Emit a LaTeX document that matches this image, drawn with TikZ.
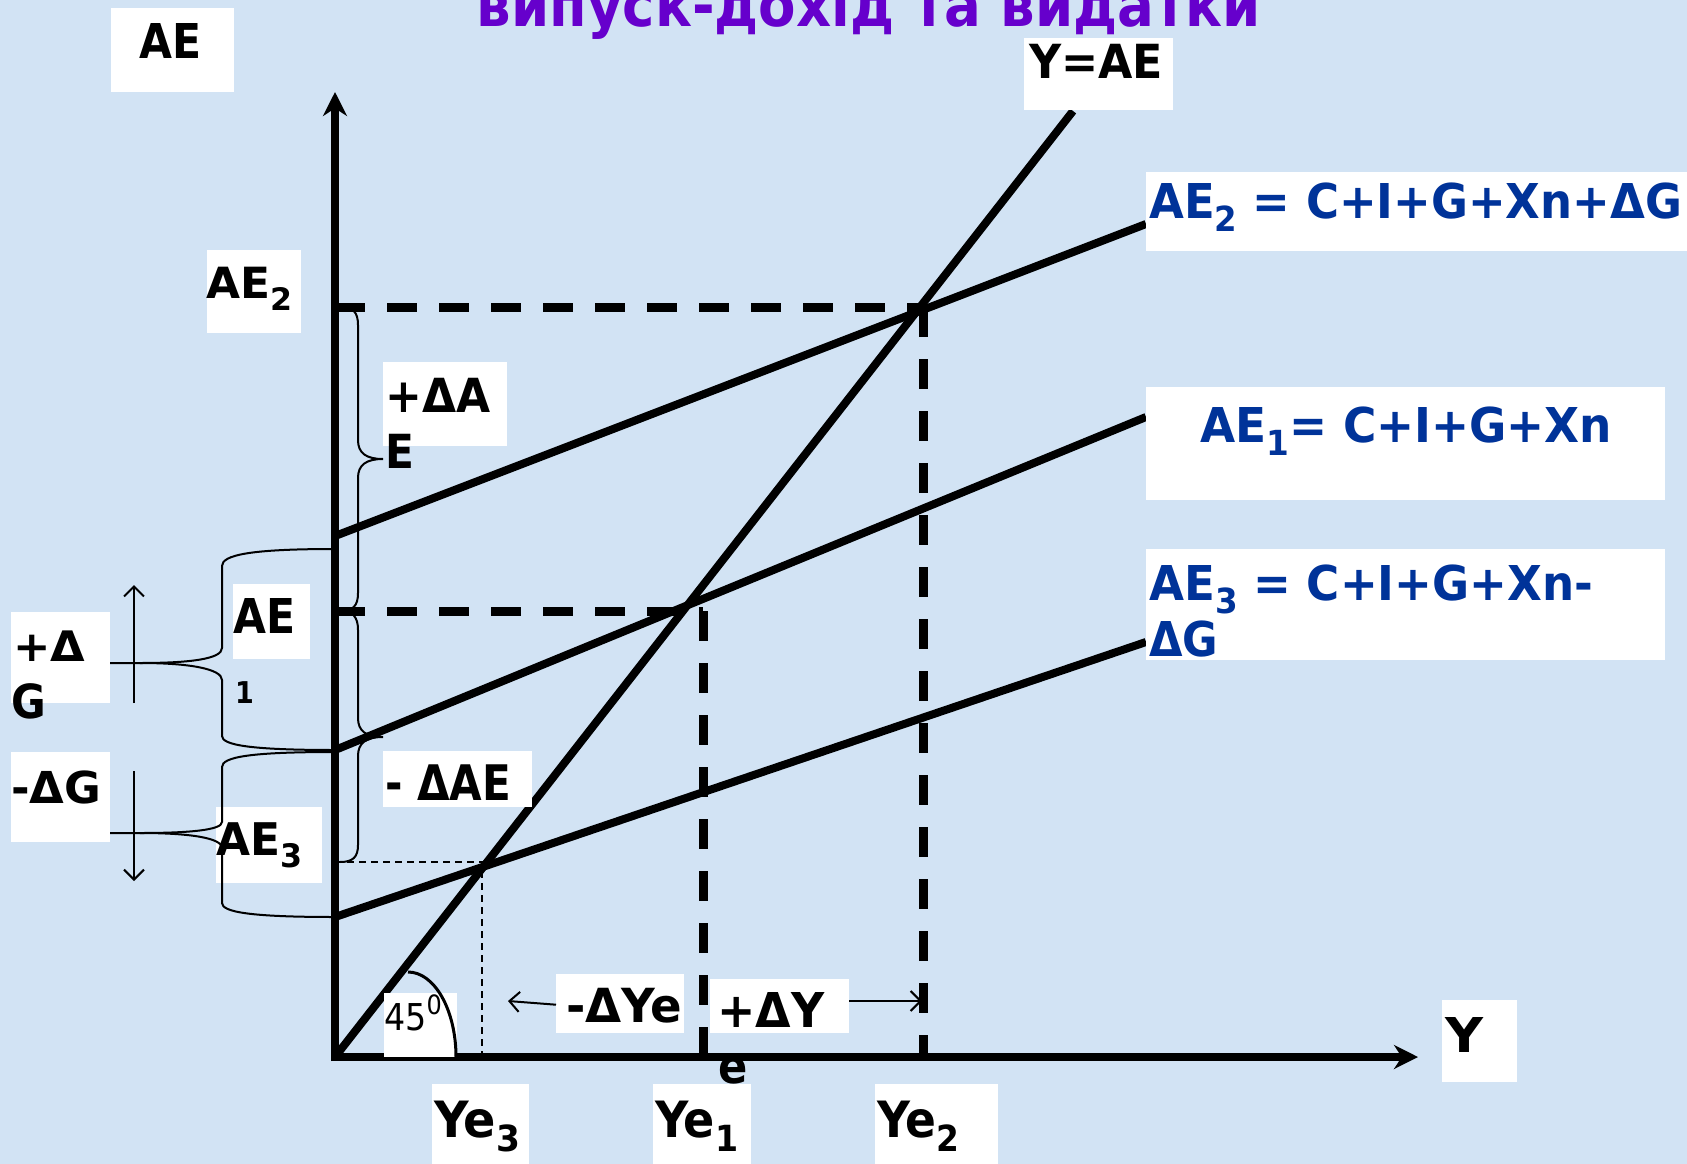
\documentclass[tikz,border=0pt]{standalone}
\usepackage{fontspec}
\setmainfont{DejaVu Sans Condensed}
\usetikzlibrary{arrows.meta}
\definecolor{bgblue}{RGB}{210,227,244}
\definecolor{txtblue}{RGB}{0,51,153}
\definecolor{ttlpurple}{RGB}{102,0,204}
\newcommand{\fw}[2]{\resizebox{#1pt}{\height}{#2}}
\newcommand{\sbs}[1]{\raisebox{-0.28em}{\scalebox{0.72}{#1}}}
\newcommand{\fs}[1]{\fontsize{#1}{#1}\selectfont}
\begin{document}
\begin{tikzpicture}[x=1pt,y=-1pt,
  thickline/.style={line width=8pt},
  axisline/.style={line width=8pt,-{Stealth[length=24pt,width=24pt]}},
  dashline/.style={line width=9pt,dash pattern=on 30pt off 22pt},
  dotline/.style={line width=1.6pt,dash pattern=on 7pt off 5pt},
  thinline/.style={line width=2pt},
  thinarrow/.style={line width=2pt,-{Straight Barb[length=10pt,width=20pt]}},
  wbox/.style={fill=white,draw=none,inner sep=0pt,anchor=north west},
  lbl/.style={inner sep=0pt,anchor=base west,font=\bfseries},
  blbl/.style={lbl,text=txtblue},
]
\useasboundingbox (0,0) rectangle (1687,1164);
\fill[bgblue] (0,0) rectangle (1687,1164);

% title (cut at top)
\node[inner sep=0pt,anchor=base,text=ttlpurple,font=\bfseries] (title) at (869,27)
  {\fw{784}{\fs{60}випуск-дохід та видатки}};

% key points
\coordinate (O) at (335,1057);
\coordinate (Ytop) at (335,92);
\coordinate (Xend) at (1418,1057);
\coordinate (Lend) at (1073,111);
\coordinate (AE2a) at (335,536); \coordinate (AE2b) at (1146,224);
\coordinate (AE1a) at (335,750); \coordinate (AE1b) at (1146,417);
\coordinate (AE3a) at (335,917); \coordinate (AE3b) at (1146,642);
\coordinate (E2) at (923,307); \coordinate (E2y) at (335,307); \coordinate (E2x) at (923,1057);
\coordinate (E1) at (703,611); \coordinate (E1y) at (335,611); \coordinate (E1x) at (703,1057);
\coordinate (E3) at (482,862); \coordinate (E3y) at (335,862); \coordinate (E3x) at (482,1057);

% dashed guides
\draw[dashline] (E2y) -- (E2);
\draw[dashline] (E2) -- (E2x);
\draw[dashline] (E1y) -- (E1);
\draw[dashline] (E1) -- (E1x);
\draw[dotline] (E3y) -- (E3) -- (E3x);

% main lines
\draw[thickline] (O) -- (Lend);
\draw[thickline] (AE2a) -- (AE2b);
\draw[thickline] (AE1a) -- (AE1b);
\draw[thickline] (AE3a) -- (AE3b);

% axes
\draw[axisline] (335,1061) -- (Ytop);
\draw[axisline] (331,1057) -- (Xend);

% white boxes
\node[wbox,minimum width=123pt,minimum height=84pt] (bAE) at (111,8) {};
\node[wbox,minimum width=149pt,minimum height=72pt] (bYAE) at (1024,38) {};
\node[wbox,minimum width=94pt,minimum height=83pt] (bAE2) at (207,250) {};
\node[wbox,minimum width=124pt,minimum height=84pt] (bdAE) at (383,362) {};
\node[wbox,minimum width=149pt,minimum height=56pt] (bmAE) at (383,751) {};
\node[wbox,minimum width=99pt,minimum height=91pt] (bdG) at (11,612) {};
\node[wbox,minimum width=99pt,minimum height=90pt] (bmG) at (11,752) {};
\node[wbox,minimum width=77pt,minimum height=75pt] (bAE1) at (233,584) {};
\node[wbox,minimum width=106pt,minimum height=76pt] (bAE3) at (216,807) {};
\node[wbox,minimum width=541pt,minimum height=79pt] (fAE2) at (1146,172) {};
\node[wbox,minimum width=519pt,minimum height=113pt] (fAE1) at (1146,387) {};
\node[wbox,minimum width=519pt,minimum height=111pt] (fAE3) at (1146,549) {};
\node[wbox,minimum width=73pt,minimum height=64pt] (b45) at (384,993) {};
\node[wbox,minimum width=128pt,minimum height=59pt] (bmY) at (556,974) {};
\node[wbox,minimum width=139pt,minimum height=54pt] (bpY) at (710,979) {};
\node[wbox,minimum width=97pt,minimum height=80pt] (bYe3) at (432,1084) {};
\node[wbox,minimum width=98pt,minimum height=80pt] (bYe1) at (653,1084) {};
\node[wbox,minimum width=123pt,minimum height=80pt] (bYe2) at (875,1084) {};
\node[wbox,minimum width=75pt,minimum height=82pt] (bY) at (1442,1000) {};

% braces on the left
\draw[thinline] (335,549) .. controls (250,549) and (222,555) .. (222,566) -- (222,648)
  .. controls (222,659) and (190,663) .. (140,663) -- (110,663);
\draw[thinline] (140,663) .. controls (190,663) and (222,669) .. (222,680) -- (222,736)
  .. controls (222,745) and (250,750) .. (335,750);
\draw[thinline] (335,752) .. controls (250,752) and (222,757) .. (222,767) -- (222,822)
  .. controls (222,830) and (190,833) .. (140,833) -- (110,833);
\draw[thinline] (140,833) .. controls (190,833) and (222,838) .. (222,848) -- (222,903)
  .. controls (222,912) and (250,917) .. (335,917);
% braces on the right
\draw[thinline] (340,307) .. controls (353,307) and (358,312) .. (358,325) -- (358,440)
  .. controls (358,453) and (366,459) .. (383,459)
  .. controls (366,459) and (358,465) .. (358,478) -- (358,593)
  .. controls (358,606) and (353,611) .. (340,611);
\draw[thinline] (340,611) .. controls (353,611) and (358,617) .. (358,630) -- (358,718)
  .. controls (358,731) and (366,737) .. (383,737)
  .. controls (366,737) and (358,743) .. (358,756) -- (358,845)
  .. controls (358,857) and (353,862) .. (340,862);

% small arrows
\coordinate (upS) at (134,703); \coordinate (upE) at (134,585);
\coordinate (dnS) at (134,771); \coordinate (dnE) at (134,881);
\draw[thinarrow] (upS) -- (upE);
\draw[thinarrow] (dnS) -- (dnE);
\draw[thinarrow] (bmY.west) ++(0,1) -- (508,1001);
\draw[thinarrow] (849,1001) -- (922,1001);

% 45 degree arc
\draw[line width=3pt] (408,972) arc[start angle=-90,end angle=0,x radius=48,y radius=85];

% texts
\node[lbl] (tAE) at (139,59) {\fw{62}{\fs{48}AE}};
\node[lbl] (tYAE) at (1029,79) {\fw{134}{\fs{47}Y=AE}};
\node[lbl] (tAE2) at (206,298) {\fw{86}{\fs{43}AE\sbs{2}}};
\node[lbl] (tdA) at (385,412) {\fw{105}{\fs{47}+ΔA}};
\node[lbl] (tdE) at (385,468) {\fs{47}E};
\node[lbl] (tmAE) at (385,800) {\fw{126}{\fs{49}- ΔAE}};
\node[lbl] (tdG1) at (13,661) {\fw{72}{\fs{42}+Δ}};
\node[lbl] (tdG2) at (11,718) {\fs{47}G};
\node[lbl] (tmG) at (11,803) {\fw{90}{\fs{44}-ΔG}};
\node[lbl] (tAE1) at (233,633) {\fw{62}{\fs{48}AE}};
\node[lbl] (tAE1s) at (235,703) {\fs{30}1};
\node[lbl] (tAE3) at (216,855) {\fw{86}{\fs{45}AE\sbs{3}}};
\node[blbl] (fAE2t) at (1149,218) {\fw{533}{\fs{48}AE\sbs{2} = C+I+G+Xn+ΔG}};
\node[blbl] (fAE1t) at (1200,442) {\fw{412}{\fs{48}AE\sbs{1}= C+I+G+Xn}};
\node[blbl] (fAE3t) at (1149,600) {\fw{444}{\fs{48}AE\sbs{3} = C+I+G+Xn-}};
\node[blbl] (fAE3u) at (1149,656) {\fw{69}{\fs{48}ΔG}};
\node[inner sep=0pt,anchor=base west] (t45) at (384,1030) {\fs{37}45\raisebox{0.42em}{\scalebox{0.72}{0}}};
\node[lbl] (tmY) at (566,1022) {\fw{116}{\fs{47}-ΔYe}};
\node[lbl] (tpY) at (717,1027) {\fw{107}{\fs{48}+ΔY}};
\node[lbl] (te) at (718,1083) {\fs{48}e};
\node[lbl] (tYe3) at (434,1137) {\fw{86}{\fs{50}Ye\sbs{3}}};
\node[lbl] (tYe1) at (655,1137) {\fw{83}{\fs{50}Ye\sbs{1}}};
\node[lbl] (tYe2) at (877,1137) {\fw{82}{\fs{50}Ye\sbs{2}}};
\node[lbl] (tY) at (1445,1052) {\fw{38}{\fs{48}Y}};
\end{tikzpicture}
\end{document}
